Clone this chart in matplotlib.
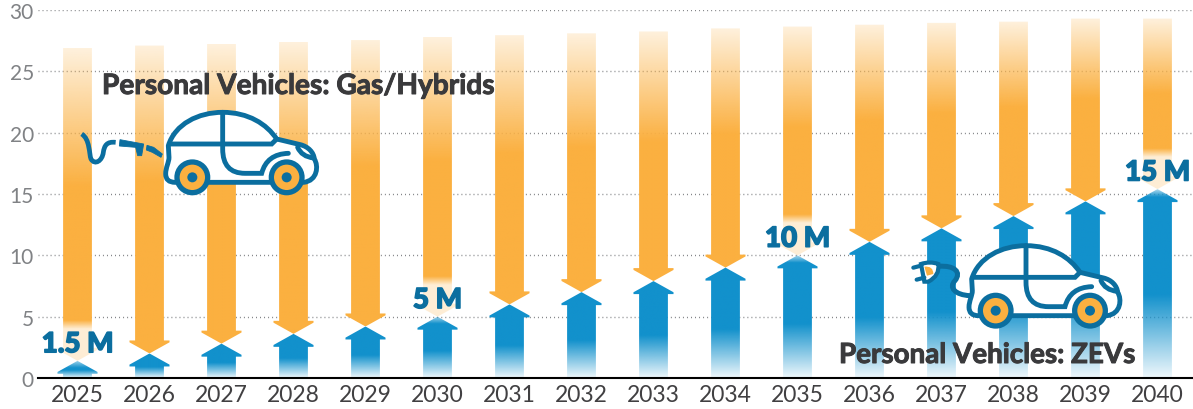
import numpy as np
import matplotlib
matplotlib.use("Agg")
import matplotlib.pyplot as plt
import matplotlib.patheffects as pe
from matplotlib.patches import Polygon, PathPatch, Circle
from matplotlib.path import Path
from matplotlib.transforms import Affine2D

plt.rcParams['font.family'] = ['Lato', 'DejaVu Sans']

years = list(range(2025, 2041))
total = [26.9, 27.1, 27.25, 27.4, 27.55, 27.8, 27.95, 28.1, 28.25, 28.5, 28.65, 28.8, 28.95, 29.05, 29.3, 29.3]
zev = [1.4, 2.0, 2.8, 3.6, 4.2, 5.0, 6.0, 7.0, 7.9, 9.0, 10.0, 11.1, 12.2, 13.2, 14.4, 15.4]
callouts = {2025: "1.5 M", 2030: "5 M", 2035: "10 M", 2040: "15 M"}
yticks = [0, 5, 10, 15, 20, 25, 30]

ORANGE = (251/255, 176/255, 64/255)
BLUE = (18/255, 145/255, 204/255)
ICON = "#0b6e9f"
ORANGE_HEX = "#fbb040"
W, H = 1193, 410
BAR = 0.2
HEAD = 0.278
HEAD_H = 1.06
FADE = 0.44


def arrow_poly(x, tip, base, up):
    s = -1 if up else 1
    return [(x-BAR, base), (x-BAR, tip+s*HEAD_H), (x-HEAD, tip+s*HEAD_H), (x-HEAD, tip+s*(HEAD_H-0.15)),
            (x, tip), (x+HEAD, tip+s*(HEAD_H-0.15)), (x+HEAD, tip+s*HEAD_H), (x+BAR, tip+s*HEAD_H), (x+BAR, base)]


def gradient(ax, poly, color, y0, y1, alpha):
    img = np.ones((len(alpha), 2, 4))
    img[..., :3] = color
    img[..., 3] = alpha[:, None]
    xs = [p[0] for p in poly]
    im = ax.imshow(img, extent=[min(xs), max(xs), y0, y1], origin="lower", aspect="auto",
                   interpolation="bilinear", zorder=2)
    patch = Polygon(poly, closed=True, transform=ax.transData, fc="none", ec="none")
    ax.add_patch(patch)
    im.set_clip_path(patch)


fig = plt.figure(figsize=(W/100, H/100), dpi=100)
ax = fig.add_axes([38/W, (H-379)/H, (W-38)/W, 368/H])

for i, yr in enumerate(years):
    v = zev[i]
    t = total[i]
    # gas arrow, pointing down
    yy = np.linspace(v, t, 400)
    a = np.clip((t-yy)/(FADE*(t-v)), 0, 1)*0.82+0.18
    if yr in callouts:
        a = a*(0.22+0.78*np.clip((yy-v-2.6)/0.7, 0, 1))
    gradient(ax, arrow_poly(yr, v, t, False), ORANGE, v, t, a)
    # zev arrow, pointing up
    yy = np.linspace(0, v, 200)
    a = np.clip(yy/(FADE*v), 0, 1)*0.93+0.07
    if yr in callouts:
        a = a*(0.35+0.65*np.clip((v-yy)/0.6, 0, 1))
    gradient(ax, arrow_poly(yr, v, 0, True), BLUE, 0, v, a)

for yr, lab in callouts.items():
    v = zev[years.index(yr)]
    ax.text(yr, v+1.35, lab, ha="center", va="center", color=ICON, fontsize=20,
            fontweight="black", zorder=5,
            path_effects=[pe.withStroke(linewidth=1.1, foreground=ICON)])

ax.set_xlim(2025-39.5/72, 2040+35.5/72)
ax.set_ylim(0, 30)
ax.set_xticks(years)
ax.set_xticklabels(years, fontsize=16.5, color="#414042")
ax.set_yticks(yticks)
ax.set_yticklabels(yticks, fontsize=15, color="#808285")
ax.tick_params(length=0)
ax.tick_params(axis="x", pad=4)
ax.tick_params(axis="y", pad=3)
ax.grid(axis="y", color="#808285", lw=1, ls=(0, (0.7, 2.2)), zorder=1)
ax.set_axisbelow(True)
for s in ["top", "right", "left"]:
    ax.spines[s].set_visible(False)
ax.spines["bottom"].set_linewidth(1.5)
ax.spines["bottom"].set_color("black")
ax.spines["bottom"].set_zorder(6)
ax.patch.set_visible(False)

title_fx = [pe.withStroke(linewidth=0.7, foreground="#3a3a3c")]
fig.text(102/W, 1-87/H, "Personal Vehicles: Gas/Hybrids", fontsize=20.2, fontweight="bold",
         color="#3a3a3c", ha="left", va="center", path_effects=title_fx)
fig.text(839/W, 1-356/H, "Personal Vehicles: ZEVs", fontsize=20, fontweight="bold",
         color="#3a3a3c", ha="left", va="center", zorder=8, path_effects=title_fx)


# car icons are traced in 3x crop coordinates
M, L, C3, C4, Z = Path.MOVETO, Path.LINETO, Path.CURVE3, Path.CURVE4, Path.CLOSEPOLY


def mk(points, codes):
    return Path(np.array(points, float), codes)


body = mk([(272, 210), (272, 190), (282, 175), (282, 160), (280, 125), (300, 60), (370, 25), (443, 25),
           (520, 25), (575, 60), (605, 105), (676, 122), (700, 128), (716, 145), (718, 165),
           (731, 185), (728, 230), (686, 235), (300, 235), (272, 235), (272, 210), (272, 210)],
          [M, C4, C4, C4, L, C4, C4, C4, C4, C4, C4, L, C4, C4, C4, C4, C4, C4, L, C3, C3, Z])
inner = [
    mk([(285, 120), (590, 120), (605, 105)], [M, L, L]),
    mk([(443, 25), (443, 135), (443, 208), (510, 208), (560, 208), (575, 150), (640, 148)], [M, L, C3, C3, L, C3, C3]),
    mk([(668, 130), (680, 158), (716, 162)], [M, C3, C3]),
]
wheels = [(352, 220), (635, 220)]


def car(dx, dy, ox, oy):
    tr = Affine2D().translate(dx, dy).scale(1/3, -1/3).translate(ox, H-oy)
    lw = 3.5
    fig.add_artist(PathPatch(body, fc="white", ec=ICON, lw=lw, transform=tr, zorder=7, joinstyle="round"))
    for p in inner:
        fig.add_artist(PathPatch(p, fc="none", ec=ICON, lw=lw, transform=tr, zorder=7, capstyle="round"))
    for c in wheels:
        fig.add_artist(Circle(c, 46, fc=ORANGE_HEX, ec=ICON, lw=3.8, transform=tr, zorder=7))
        fig.add_artist(Circle(c, 15, fc=ICON, ec="none", transform=tr, zorder=7))
    return tr


tr1 = car(0, 0, 75, 105)
hose = mk([(122, 115), (95, 112), (88, 125), (85, 145), (82, 170), (60, 185), (48, 165), (42, 150), (45, 105), (20, 90)],
          [M, C4, C4, C4, C4, C4, C4, C4, C4, C4])
fig.add_artist(PathPatch(hose, fc="none", ec=ICON, lw=3.4, transform=tr1, zorder=7))
nozzle = Path([(135, 107), (206, 120), (200, 155), (188, 155), (182, 130), (133, 126), (135, 107)],
              [M, L, L, L, L, L, Z])
fig.add_artist(PathPatch(nozzle, fc=ICON, ec=ICON, lw=0.6, transform=tr1, zorder=7))
spout = Path([(216, 124), (236, 130), (262, 150), (258, 160), (232, 145), (214, 138), (216, 124)],
             [M, L, L, L, L, L, Z])
fig.add_artist(PathPatch(spout, fc=ICON, ec=ICON, lw=0.6, transform=tr1, zorder=7))

tr2 = car(-80, -5, 905, 240)
tr2b = Affine2D().scale(1/3, -1/3).translate(905, H-240)
cord = mk([(100, 82), (150, 78), (170, 100), (150, 125), (130, 145), (150, 168), (195, 170)],
          [M, C4, C4, C4, C4, C4, C4])
fig.add_artist(PathPatch(cord, fc="none", ec=ICON, lw=3.6, transform=tr2b, zorder=6))
plug = Path([(48, 75), (75, 66), (100, 75), (105, 110), (70, 128), (58, 128), (48, 75)],
            [M, C3, C3, C3, C3, L, Z])
fig.add_artist(PathPatch(plug, fc="white", ec=ICON, lw=3, transform=tr2b, zorder=7))
core = Path([(58, 83), (85, 80), (85, 105), (66, 110), (58, 83)], [M, C3, C3, L, Z])
fig.add_artist(PathPatch(core, fc=ORANGE_HEX, ec="none", transform=tr2b, zorder=7))
for p in ([(25, 86), (48, 80)], [(35, 122), (58, 116)]):
    fig.add_artist(PathPatch(Path(p), fc="none", ec=ICON, lw=3, transform=tr2b, zorder=7, capstyle="round"))

fig.savefig("out.png", dpi=100)
